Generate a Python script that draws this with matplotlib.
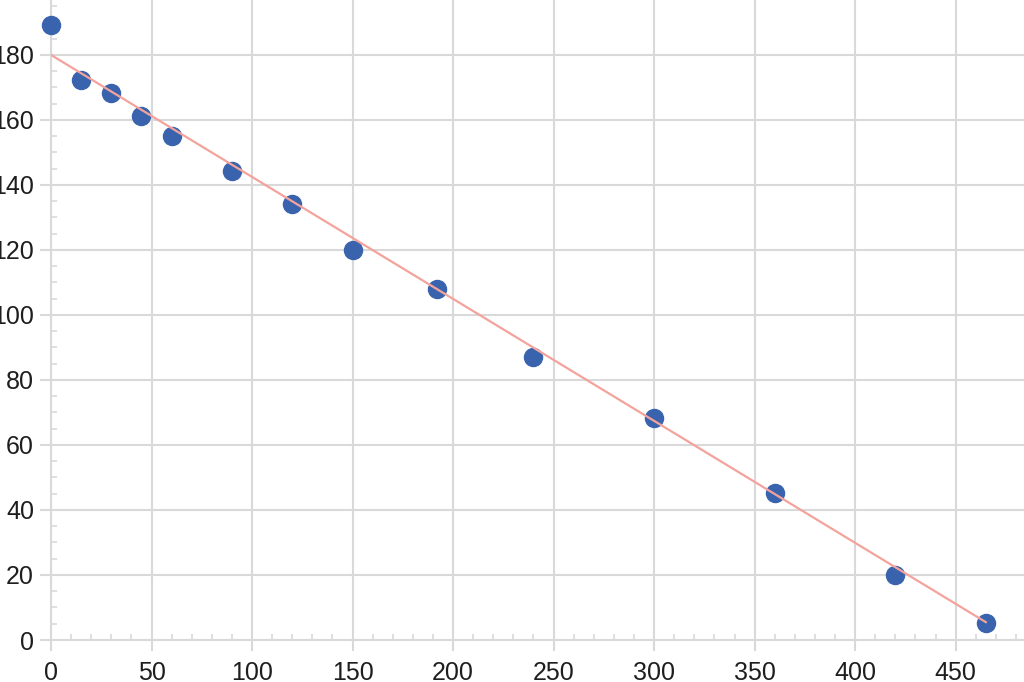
import matplotlib
matplotlib.use("Agg")
import matplotlib.pyplot as plt
from matplotlib.ticker import MultipleLocator

# measured points
time_x = [0, 15, 30, 45, 60, 90, 120, 150, 192, 240, 300, 360, 420, 465]
value_y = [189.2, 172.3, 168.3, 161.2, 155.1, 144.3, 134.2, 120.0, 108.0, 87.1, 68.3, 45.2, 20.0, 5.2]

# trend line end points
trend_x = [0, 465]
trend_y = [180, 5.5]

plt.rcParams['font.family'] = ['Liberation Sans', 'DejaVu Sans']

fig = plt.figure(figsize=(10.24, 6.82), dpi=100)
ax = fig.add_axes([51/1024, 42/682, 973/1024, 640/682])

grid_c = '#d9d9d9'
ax.plot(time_x, value_y, 'o', color='#3a63ae', markersize=13, zorder=3, clip_on=False)
ax.plot(trend_x, trend_y, color='#f4a39c', lw=1.6, zorder=4)

ax.set_xlim(0, 484)
ax.set_ylim(0, 196.9)

ax.xaxis.set_major_locator(MultipleLocator(50))
ax.xaxis.set_minor_locator(MultipleLocator(10))
ax.yaxis.set_major_locator(MultipleLocator(20))
ax.yaxis.set_minor_locator(MultipleLocator(5))

ax.grid(True, which='major', color=grid_c, lw=1.5)
ax.set_axisbelow(True)
for s in ['top', 'right']:
    ax.spines[s].set_visible(False)
for s in ['left', 'bottom']:
    ax.spines[s].set_color(grid_c)
    ax.spines[s].set_linewidth(1.5)

ax.tick_params(which='major', direction='out', length=7.8, width=1.5, color=grid_c,
               labelsize=18, labelcolor='#1e1e1e')
ax.tick_params(axis='y', which='major', pad=4.5)
ax.tick_params(axis='x', which='major', pad=7.5)
ax.tick_params(which='minor', direction='in', length=4.5, width=1.2, color=grid_c)

fig.savefig('out.png', dpi=100)
